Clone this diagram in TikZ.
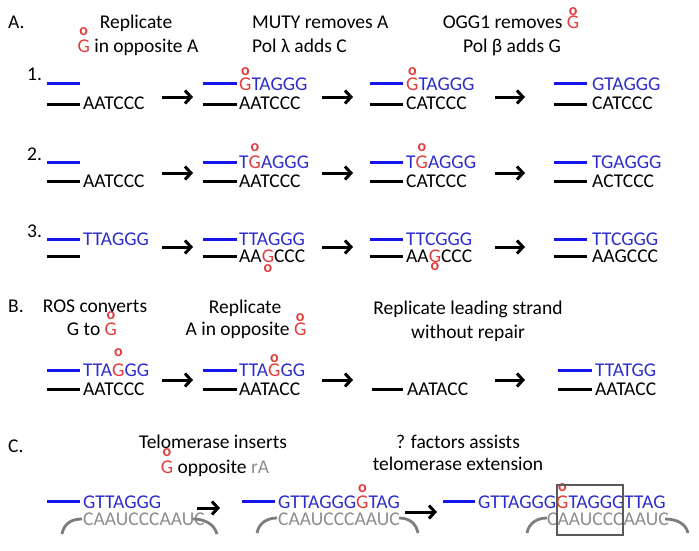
\documentclass[tikz,border=0pt]{standalone}
\usepackage{fontspec}
\setmainfont{Carlito}
\usetikzlibrary{arrows.meta}
\definecolor{seqblue}{RGB}{45,45,205}
\definecolor{lineblue}{RGB}{20,20,235}
\definecolor{ored}{RGB}{228,60,60}
\definecolor{tgray}{RGB}{140,140,140}
\definecolor{agray}{RGB}{125,125,125}
\newcommand\oG[1][14]{{\color{ored}\setbox0\hbox{G}\rlap{\hbox to\wd0{\hss\raisebox{\dimexpr #1pt+2.5pt\relax}{\fontsize{16}{16}\selectfont\bfseries o}\hss}}G}}
\newcommand\oGb[1][12]{{\color{ored}\setbox0\hbox{G}\rlap{\hbox to\wd0{\hss\raisebox{\dimexpr 2.5pt-#1pt\relax}{\fontsize{16}{16}\selectfont\bfseries o}\hss}}G}}
\begin{document}
\begin{tikzpicture}[x=1pt,y=-1pt,
  txt/.style={anchor=base west, inner sep=0pt, font=\fontsize{19.5}{22}\selectfont},
  hd/.style={anchor=base, inner sep=0pt, font=\fontsize{19.5}{22}\selectfont},
  bseq/.style={txt, text=seqblue},
  kseq/.style={txt, text=black},
  gseq/.style={txt, text=tgray},
  bl/.style={line width=3pt, lineblue},
  kl/.style={line width=3pt, black},
  garc/.style={line width=2.8pt, agray},
  arr/.style={line width=3pt, -{Straight Barb[length=6pt,width=13pt]}},
  ]
\useasboundingbox (0,0) rectangle (699,551);

% ---------- Section A headers
\node[txt] (labA) at (8,29) {A.};
\node[hd] (hA1a) at (136,29) {Replicate};
\node[hd] (hA1b) at (138,53) {\oG[15] in opposite A};
\node[txt] (hA2a) at (252,29) {MUTY removes A};
\node[txt] (hA2b) at (252,53) {Pol λ adds C};
\node[hd] (hA3a) at (511,29) {OGG1 removes \oG[11]};
\node[hd] (hA3b) at (512,53) {Pol β adds G};

% ---------- Row 1
\node[txt] (n1) at (27,81) {1.};
\draw[bl] (47,84) -- (80,84);
\draw[kl] (47,104) -- (80,104);
\node[kseq] (r1c1k) at (83,110) {AATCCC};
\draw[bl] (203,84) -- (237,84);
\node[bseq] (r1c2b) at (239,90) {\oG[12]TAGGG};
\draw[kl] (203,104) -- (237,104);
\node[kseq] (r1c2k) at (239,110) {AATCCC};
\draw[bl] (370,84) -- (403,84);
\node[bseq] (r1c3b) at (406,90) {\oG[12]TAGGG};
\draw[kl] (370,104) -- (403,104);
\node[kseq] (r1c3k) at (406,110) {CATCCC};
\draw[bl] (554,84) -- (587,84);
\node[bseq] (r1c4b) at (592,90) {GTAGGG};
\draw[kl] (554,104) -- (587,104);
\node[kseq] (r1c4k) at (592,110) {CATCCC};

% ---------- Row 2
\node[txt] (n2) at (27,160) {2.};
\draw[bl] (47,162) -- (80,162);
\draw[kl] (47,181) -- (80,181);
\node[kseq] (r2c1k) at (83,187) {AATCCC};
\draw[bl] (203,162) -- (237,162);
\node[bseq] (r2c2b) at (239,168) {T\oG[14]AGGG};
\draw[kl] (203,181) -- (237,181);
\node[kseq] (r2c2k) at (239,187) {AATCCC};
\draw[bl] (370,162) -- (403,162);
\node[bseq] (r2c3b) at (406,168) {T\oG[14]AGGG};
\draw[kl] (370,181) -- (403,181);
\node[kseq] (r2c3k) at (406,187) {CATCCC};
\draw[bl] (554,162) -- (587,162);
\node[bseq] (r2c4b) at (592,168) {TGAGGG};
\draw[kl] (554,181) -- (587,181);
\node[kseq] (r2c4k) at (592,187) {ACTCCC};

% ---------- Row 3
\node[txt] (n3) at (27,237) {3.};
\draw[bl] (47,239) -- (80,239);
\node[bseq] (r3c1b) at (83,245) {TTAGGG};
\draw[kl] (47,256) -- (80,256);
\draw[bl] (203,239) -- (237,239);
\node[bseq] (r3c2b) at (239,245) {TTAGGG};
\draw[kl] (203,256) -- (237,256);
\node[kseq] (r3c2k) at (239,262) {AA\oGb[12.5]CCC};
\draw[bl] (370,239) -- (403,239);
\node[bseq] (r3c3b) at (406,245) {TTCGGG};
\draw[kl] (370,256) -- (403,256);
\node[kseq] (r3c3k) at (406,262) {AA\oGb[11]CCC};
\draw[bl] (554,239) -- (587,239);
\node[bseq] (r3c4b) at (592,245) {TTCGGG};
\draw[kl] (554,256) -- (587,256);
\node[kseq] (r3c4k) at (592,262) {AAGCCC};

% ---------- Section B headers
\node[txt] (labB) at (8,312) {B.};
\node[hd] (hB1a) at (95,312) {ROS converts};
\node[hd] (hB1b) at (92,335) {G to \oG[13]};
\node[hd] (hB2a) at (245,313) {Replicate};
\node[hd] (hB2b) at (246,335) {A in opposite \oG[11]};
\node[hd] (hB3a) at (468,314) {Replicate leading strand};
\node[hd] (hB3b) at (468,338) {without repair};

% ---------- Row B
\draw[bl] (47,370) -- (80,370);
\node[bseq] (rBc1b) at (83,376) {TTA\oG[17]GG};
\draw[kl] (47,389) -- (80,389);
\node[kseq] (rBc1k) at (83,395) {AATCCC};
\draw[bl] (203,370) -- (237,370);
\node[bseq] (rBc2b) at (239,376) {TTA\oG[11]GG};
\draw[kl] (203,389) -- (237,389);
\node[kseq] (rBc2k) at (239,395) {AATACC};
\draw[kl] (372,389) -- (403,389);
\node[kseq] (rBc3k) at (407,395) {AATACC};
\draw[bl] (558,370) -- (592,370);
\node[bseq] (rBc4b) at (595,376) {TTATGG};
\draw[kl] (558,389) -- (592,389);
\node[kseq] (rBc4k) at (595,395) {AATACC};

% ---------- arrows A and B
\foreach \r/\y in {1/97,2/173,3/247,B/380}{
  \coordinate (a\r x1) at (162,\y); \coordinate (b\r x1) at (193,\y);
  \coordinate (a\r x2) at (322,\y); \coordinate (b\r x2) at (353,\y);
  \coordinate (a\r x3) at (495,\y); \coordinate (b\r x3) at (525,\y);
  \draw[arr] (a\r x1) -- (b\r x1);
  \draw[arr] (a\r x2) -- (b\r x2);
  \draw[arr] (a\r x3) -- (b\r x3);
}

% ---------- Section C headers
\node[txt] (labC) at (8,452) {C.};
\node[hd] (hC1a) at (213,448) {Telomerase inserts};
\node[hd] (hC1b) at (215,473) {\oG[14] opposite {\color{tgray}rA}};
\node[hd] (hC2a) at (458,448) {? factors assists};
\node[hd] (hC2b) at (458,470) {telomerase extension};

% ---------- Row C
\draw[bl] (47,501) -- (80,501);
\node[bseq] (rCc1b) at (83,508) {GTTAGGG};
\node[gseq] (rCc1g) at (83,525) {CAAUCCCAAUC};
\draw[garc] (62,534) .. controls (64,523) and (72,519) .. (82,519);
\draw[garc] (193,519) .. controls (205,519) and (214,524) .. (217,534);

\draw[bl] (242,501) -- (275,501);
\node[bseq] (rCc2b) at (278,508) {GTTAGGG\oG[13.5]TAG};
\node[gseq] (rCc2g) at (278,525) {CAAUCCCAAUC};
\draw[garc] (257,533) .. controls (259,523) and (267,518) .. (277,518);
\draw[garc] (399,518) .. controls (409,518) and (416,523) .. (418,533);

\draw[bl] (443,501) -- (475,501);
\node[bseq] (rCc3b) at (478,508) {GTTAGGG\oG[14]TAGGGTTAG};
\node[gseq] (rCc3g) at (547,525) {CAAUCCCAAUC};
\draw[garc] (527,533) .. controls (529,523) and (537,518) .. (547,518);
\draw[garc] (665,519) .. controls (677,519) and (686,524) .. (688,533);
\draw[line width=1.3pt, black!65] (557,485) rectangle (623,535);

\coordinate (aCx1) at (197,508); \coordinate (bCx1) at (220,508);
\coordinate (aCx2) at (405,512); \coordinate (bCx2) at (437,512);
\draw[arr] (aCx1) -- (bCx1);
\draw[arr] (aCx2) -- (bCx2);
\end{tikzpicture}
\end{document}
